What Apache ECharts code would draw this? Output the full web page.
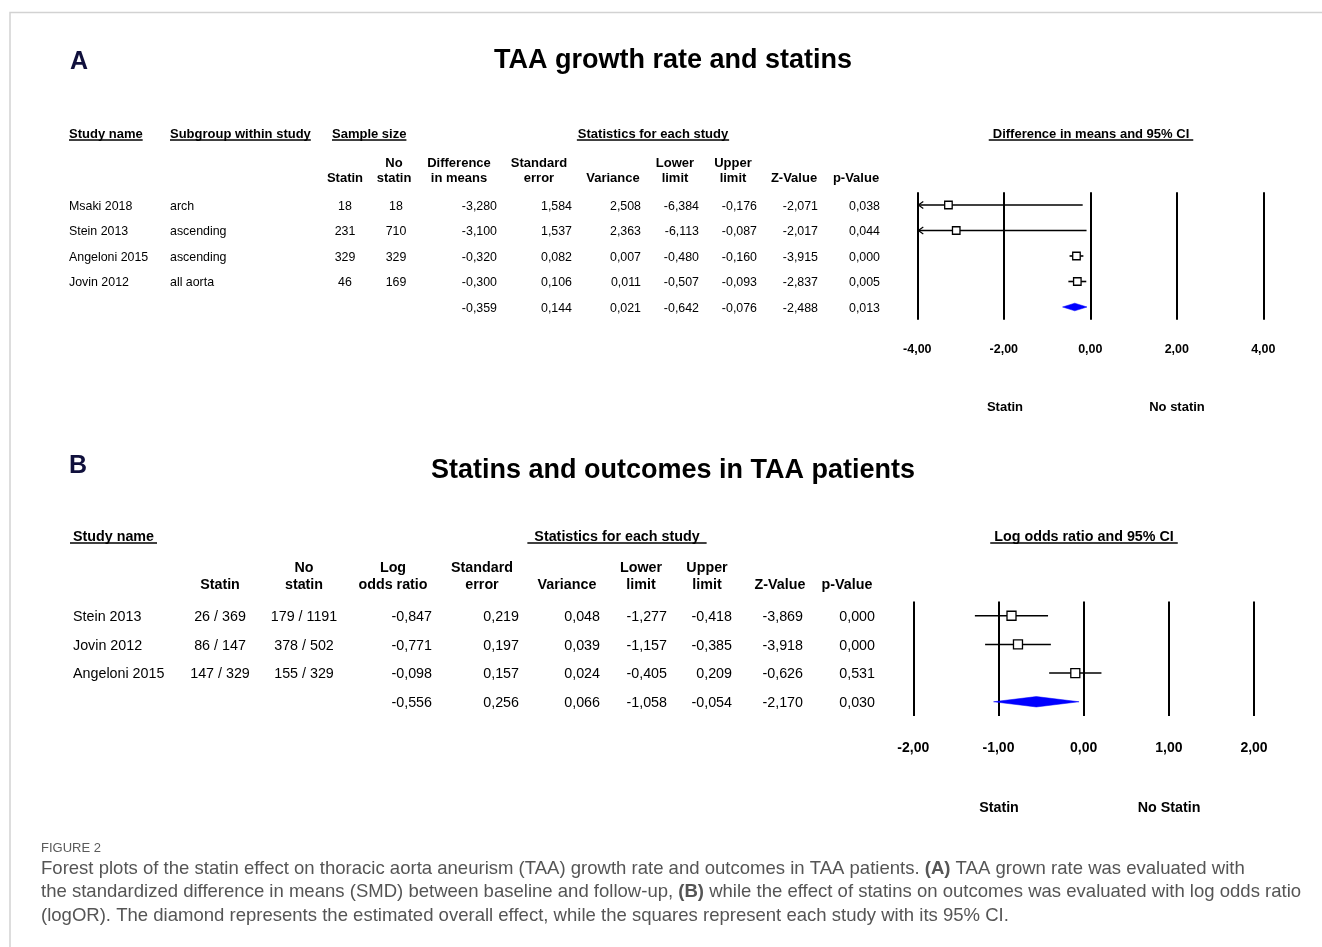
<!DOCTYPE html>
<html>
<head>
<meta charset="utf-8">
<title>Statins and TAA - forest plots</title>
<script src="https://cdn.jsdelivr.net/npm/echarts@6/dist/echarts.min.js"></script>
<style>
html, body { margin: 0; padding: 0; background: #fff; }
#chart { width: 1322px; height: 947px; }
</style>
</head>
<body>
<div id="chart"></div>
<script>
// ---- panel A : growth rate ----
var studiesA = ['Msaki 2018', 'Stein 2013', 'Angeloni 2015', 'Jovin 2012'];
var subgroupA = ['arch', 'ascending', 'ascending', 'all aorta'];
var statinNA = [18, 231, 329, 46];
var noStatinNA = [18, 710, 329, 169];
// last value of each list is the pooled row
var diffA = [-3.280, -3.100, -0.320, -0.300, -0.359];
var seA = [1.584, 1.537, 0.082, 0.106, 0.144];
var varA = [2.508, 2.363, 0.007, 0.011, 0.021];
var lowerA = [-6.384, -6.113, -0.480, -0.507, -0.642];
var upperA = [-0.176, -0.087, -0.160, -0.093, -0.076];
var zA = [-2.071, -2.017, -3.915, -2.837, -2.488];
var pA = [0.038, 0.044, 0.000, 0.005, 0.013];

// ---- panel B : outcomes ----
var studiesB = ['Stein 2013', 'Jovin 2012', 'Angeloni 2015'];
var statinEvB = ['26 / 369', '86 / 147', '147 / 329'];
var noStatinEvB = ['179 / 1191', '378 / 502', '155 / 329'];
var logOrB = [-0.847, -0.771, -0.098, -0.556];
var seB = [0.219, 0.197, 0.157, 0.256];
var varB = [0.048, 0.039, 0.024, 0.066];
var lowerB = [-1.277, -1.157, -0.405, -1.058];
var upperB = [-0.418, -0.385, 0.209, -0.054];
var zB = [-3.869, -3.918, -0.626, -2.170];
var pB = [0.000, 0.000, 0.531, 0.030];

var FONT = '"Liberation Sans", Arial, sans-serif';
var chart = echarts.init(document.getElementById('chart'));

function fmt(v) { return v.toFixed(3).replace('.', ','); }
function tick(v) { return v.toFixed(2).replace('.', ','); }

var ctx = document.createElement('canvas').getContext('2d');
function textW(str, font) { ctx.font = font; return ctx.measureText(str).width; }

var YOFF = 1.5; // canvas 'middle' sits a bit high for this font
var g = [];
function txt(str, x, y, size, bold, align, color) {
    g.push({
        type: 'text', silent: true,
        style: {
            text: str, x: x, y: y + YOFF,
            font: (bold ? 'bold ' : '') + size + 'px ' + FONT,
            fill: color || '#000',
            align: align || 'left', textAlign: align || 'left',
            verticalAlign: 'middle', textVerticalAlign: 'middle'
        }
    });
}
// underlined header
function utxt(str, x, y, size, align, uy, pad) {
    txt(str, x, y, size, true, align);
    var w = textW(str, 'bold ' + size + 'px ' + FONT);
    var x0 = align === 'center' ? x - w / 2 : x;
    pad = pad || 0;
    g.push({
        type: 'line', silent: true,
        shape: { x1: x0 - pad, y1: uy, x2: x0 + w + pad, y2: uy },
        style: { stroke: '#000', lineWidth: 1.3 }
    });
}

// frame
g.push({ type: 'polyline', silent: true, shape: { points: [[10, 947], [10, 12.5], [1322, 12.5]] },
    style: { stroke: '#d2d2d2', lineWidth: 1.5, fill: null } });

// ===== panel A text =====
txt('A', 70, 61, 25, true, 'left', '#10103c');
txt('TAA growth rate and statins', 673, 59, 27, true, 'center');

utxt('Study name', 69, 133, 13, 'left', 140);
utxt('Subgroup within study', 170, 133, 13, 'left', 140);
utxt('Sample size', 332, 133, 13, 'left', 140);
utxt('Statistics for each study', 653, 133, 13, 'center', 140, 1);
utxt('Difference in means and 95% CI', 1091, 133, 13, 'center', 140, 4);

var hA1 = 162, hA2 = 177;
txt('No', 394, hA1, 13, true, 'center'); txt('statin', 394, hA2, 13, true, 'center');
txt('Statin', 345, hA2, 13, true, 'center');
txt('Difference', 459, hA1, 13, true, 'center'); txt('in means', 459, hA2, 13, true, 'center');
txt('Standard', 539, hA1, 13, true, 'center'); txt('error', 539, hA2, 13, true, 'center');
txt('Variance', 613, hA2, 13, true, 'center');
txt('Lower', 675, hA1, 13, true, 'center'); txt('limit', 675, hA2, 13, true, 'center');
txt('Upper', 733, hA1, 13, true, 'center'); txt('limit', 733, hA2, 13, true, 'center');
txt('Z-Value', 794, hA2, 13, true, 'center');
txt('p-Value', 856, hA2, 13, true, 'center');

var rowA0 = 205, rowAStep = 25.5, fA = 12.4;
studiesA.forEach(function (s, i) {
    var y = rowA0 + i * rowAStep;
    txt(s, 69, y, fA, false, 'left');
    txt(subgroupA[i], 170, y, fA, false, 'left');
    txt(String(statinNA[i]), 345, y, fA, false, 'center');
    txt(String(noStatinNA[i]), 396, y, fA, false, 'center');
});
var colsA = [[diffA, 497], [seA, 572], [varA, 641], [lowerA, 699], [upperA, 757], [zA, 818], [pA, 880]];
colsA.forEach(function (c) {
    c[0].forEach(function (v, i) { txt(fmt(v), c[1], rowA0 + i * rowAStep, fA, false, 'right'); });
});
txt('Statin', 1005, 406, 13, true, 'center');
txt('No statin', 1177, 406, 13, true, 'center');

// ===== panel B text =====
txt('B', 69, 465, 25, true, 'left', '#10103c');
txt('Statins and outcomes in TAA patients', 673, 469, 27, true, 'center');

utxt('Study name', 73, 535.5, 14.3, 'left', 543, 3);
utxt('Statistics for each study', 617, 535.5, 14.3, 'center', 543, 7);
utxt('Log odds ratio and 95% CI', 1084, 535.5, 14.3, 'center', 543, 4);

var hB1 = 567, hB2 = 584, fBH = 14.3;
txt('Statin', 220, hB2, fBH, true, 'center');
txt('No', 304, hB1, fBH, true, 'center'); txt('statin', 304, hB2, fBH, true, 'center');
txt('Log', 393, hB1, fBH, true, 'center'); txt('odds ratio', 393, hB2, fBH, true, 'center');
txt('Standard', 482, hB1, fBH, true, 'center'); txt('error', 482, hB2, fBH, true, 'center');
txt('Variance', 567, hB2, fBH, true, 'center');
txt('Lower', 641, hB1, fBH, true, 'center'); txt('limit', 641, hB2, fBH, true, 'center');
txt('Upper', 707, hB1, fBH, true, 'center'); txt('limit', 707, hB2, fBH, true, 'center');
txt('Z-Value', 780, hB2, fBH, true, 'center');
txt('p-Value', 847, hB2, fBH, true, 'center');

var rowB0 = 615.7, rowBStep = 28.67, fB = 14.3;
studiesB.forEach(function (s, i) {
    var y = rowB0 + i * rowBStep;
    txt(s, 73, y, fB, false, 'left');
    txt(statinEvB[i], 220, y, fB, false, 'center');
    txt(noStatinEvB[i], 304, y, fB, false, 'center');
});
var colsB = [[logOrB, 432], [seB, 519], [varB, 600], [lowerB, 667], [upperB, 732], [zB, 803], [pB, 875]];
colsB.forEach(function (c) {
    c[0].forEach(function (v, i) { txt(fmt(v), c[1], rowB0 + i * rowBStep, fB, false, 'right'); });
});
txt('Statin', 999, 807, 14.3, true, 'center');
txt('No Statin', 1169, 807, 14.3, true, 'center');

// ===== caption =====
var capFont = '"Liberation Sans", Arial, sans-serif';
var cap1 = 'Forest plots of the statin effect on thoracic aorta aneurism (TAA) growth rate and outcomes in TAA patients. ';
var cap1b = ' TAA grown rate was evaluated with';
var cap2 = 'the standardized difference in means (SMD) between baseline and follow-up, ';
var cap2b = ' while the effect of statins on outcomes was evaluated with log odds ratio';
var cap3 = '(logOR). The diamond represents the estimated overall effect, while the squares represent each study with its 95% CI.';
var capSize = 17 * 1260 / textW(cap2 + '(B)' + cap2b, '17px ' + capFont);
txt('FIGURE 2', 41, 847, 13, false, 'left', '#5a5a5a');
[[cap1, '(A)', cap1b, 867], [cap2, '(B)', cap2b, 890.5], [cap3, '', '', 914]].forEach(function (l) {
    g.push({
        type: 'text', silent: true,
        style: {
            text: l[0] + (l[1] ? '{b|' + l[1] + '}' : '') + l[2],
            x: 41, y: l[3] + YOFF,
            font: capSize.toFixed(2) + 'px ' + capFont,
            fill: '#555',
            verticalAlign: 'middle', textVerticalAlign: 'middle',
            rich: { b: { fontWeight: 'bold', fontSize: capSize, fontFamily: capFont, fill: '#555', color: '#555' } }
        }
    });
});

// ===== forest plots =====
function forestItem(sq, dh, lw) {
    return function (params, api) {
        var est = api.value(0), row = api.value(1), lo = api.value(2), hi = api.value(3), summ = api.value(4);
        var cs = params.coordSys;
        var c = api.coord([est, row]);
        var y = c[1];
        var lp = api.coord([lo, row])[0];
        var hp = api.coord([hi, row])[0];
        var clipped = false;
        if (lp < cs.x) { lp = cs.x; clipped = true; }
        if (hp > cs.x + cs.width) { hp = cs.x + cs.width; }
        if (summ) {
            return {
                type: 'polygon',
                shape: { points: [[lp, y], [c[0], y - dh], [hp, y], [c[0], y + dh]] },
                style: { fill: '#0000ff', stroke: '#0000ff', lineWidth: 0.5 }
            };
        }
        var children = [{
            type: 'line',
            shape: { x1: lp, y1: y, x2: hp, y2: y },
            style: { stroke: '#000', lineWidth: lw }
        }];
        if (clipped) {
            children.push({
                type: 'polyline',
                shape: { points: [[lp + 6, y - 3.5], [lp + 1, y], [lp + 6, y + 3.5]] },
                style: { stroke: '#000', fill: null, lineWidth: 1.2 }
            });
        }
        children.push({
            type: 'rect',
            shape: { x: c[0] - sq / 2, y: y - sq / 2, width: sq, height: sq },
            style: { fill: '#fff', stroke: '#000', lineWidth: 1.3 }
        });
        return { type: 'group', children: children };
    };
}

var dataA = diffA.map(function (v, i) { return [v, i, lowerA[i], upperA[i], i === diffA.length - 1 ? 1 : 0]; });
var dataB = logOrB.map(function (v, i) { return [v, i, lowerB[i], upperB[i], i === logOrB.length - 1 ? 1 : 0]; });
var rowsA = studiesA.concat(['Overall']);
var rowsB = studiesB.concat(['Overall']);

function xAxisCfg(idx, mn, mx, itv, size, margin) {
    return {
        gridIndex: idx, type: 'value', min: mn, max: mx, interval: itv,
        axisLine: { show: false }, axisTick: { show: false },
        splitLine: { show: true, lineStyle: { color: '#000', width: 2 } },
        axisLabel: { fontWeight: 'bold', fontSize: size, fontFamily: FONT, color: '#000', margin: margin, formatter: tick }
    };
}

var option = {
    animation: false,
    backgroundColor: '#fff',
    grid: [
        { left: 917.3, top: 192.25, width: 346, height: 127.5 },
        { left: 913.3, top: 601.4, width: 340.7, height: 114.7 }
    ],
    xAxis: [
        xAxisCfg(0, -4, 4, 2, 12.5, 23),
        xAxisCfg(1, -2, 2, 1, 14, 25.5)
    ],
    yAxis: [
        { gridIndex: 0, type: 'category', data: rowsA, inverse: true, show: false },
        { gridIndex: 1, type: 'category', data: rowsB, inverse: true, show: false }
    ],
    series: [
        { type: 'custom', xAxisIndex: 0, yAxisIndex: 0, data: dataA, clip: false,
          encode: { x: [0, 2, 3], y: 1 }, renderItem: forestItem(7.5, 3.8, 1.6) },
        { type: 'custom', xAxisIndex: 1, yAxisIndex: 1, data: dataB, clip: false,
          encode: { x: [0, 2, 3], y: 1 }, renderItem: forestItem(9, 5.2, 1.5) }
    ],
    graphic: g
};
chart.setOption(option);
</script>
</body>
</html>
